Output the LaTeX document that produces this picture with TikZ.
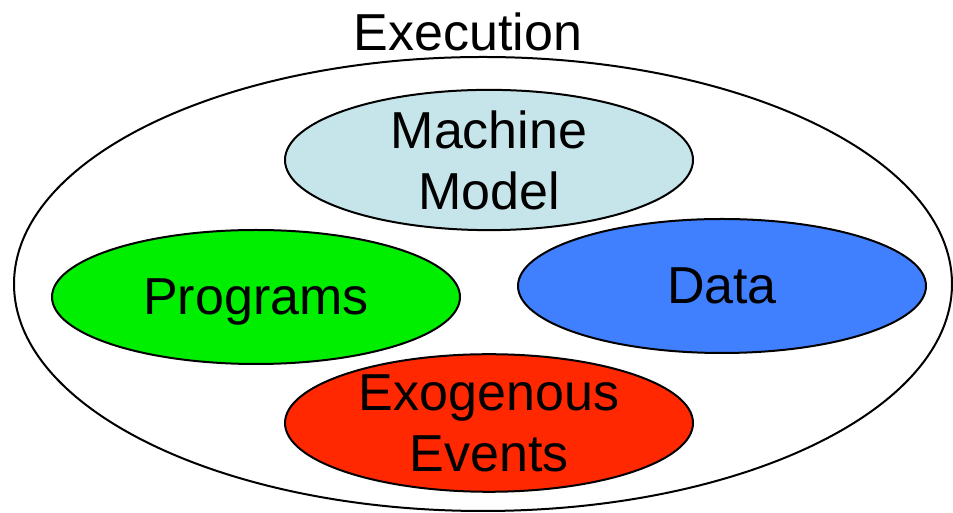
\documentclass[tikz,border=0pt]{standalone}
\usepackage{fontspec}
\setmainfont{Liberation Sans}
\usepackage{xcolor}
\usepackage{tikz}
\usetikzlibrary{shapes.geometric}

\definecolor{modelblue}{RGB}{198,229,234}
\definecolor{progreen}{RGB}{0,238,0}
\definecolor{datablue}{RGB}{64,128,255}
\definecolor{eventred}{RGB}{255,40,0}

\begin{document}
\begin{tikzpicture}[x=1pt,y=1pt]
    % Define node styles
    \tikzstyle{whole} = [ellipse, draw, line width=2pt, minimum width=938pt, minimum height=454pt]
    \tikzstyle{part} = [ellipse, draw, line width=2pt, inner sep=0pt, minimum width=408pt, minimum height=134pt, align=center, font=\fontsize{52}{61}\selectfont]
    \tikzstyle{title} = [inner sep=0pt, font=\fontsize{52}{61}\selectfont]

    \useasboundingbox (0,0) rectangle (953,513);

    % Outer ellipse and its title
    \node[whole] (exec) at (483,229) {};
    \node[title] (name) at (468,481) {Execution};

    % Parts of an execution
    \node[part, fill=modelblue] (model) at (489,353) {Machine\\Model};
    \node[part, fill=progreen, text depth=0pt] (progs) at (256,216) {Programs};
    \node[part, fill=datablue] (data) at (722,227) {Data};
    \node[part, fill=eventred] (events) at (489,90) {Exogenous\\Events};
\end{tikzpicture}
\end{document}
